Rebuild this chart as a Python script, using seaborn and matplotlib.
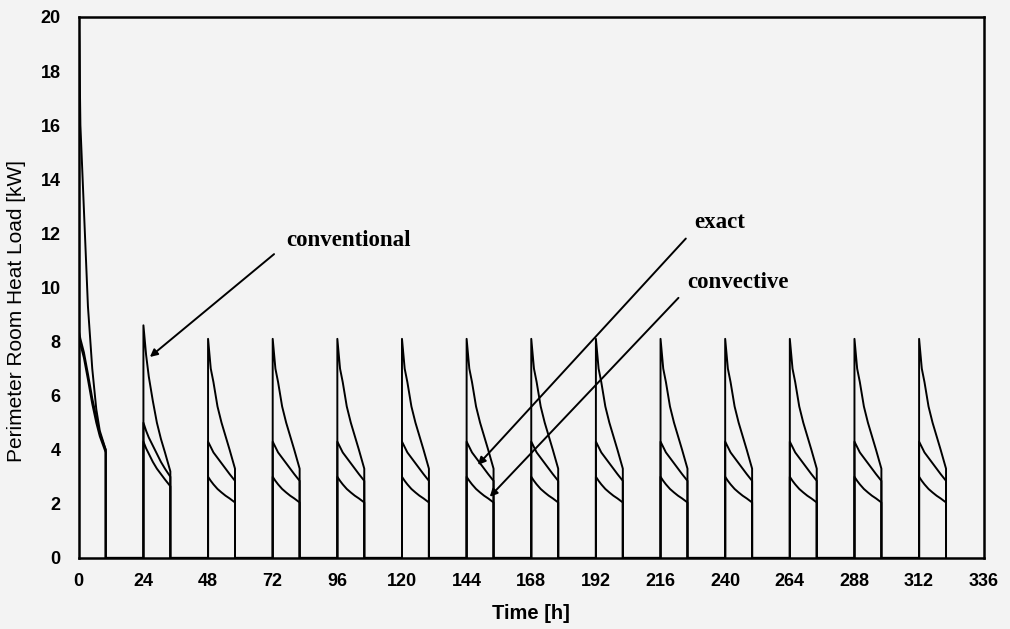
import pandas as pd
import matplotlib.pyplot as plt
import seaborn as sns

# Start hour of each daily heating period
day_starts = [0, 24, 48, 72, 96, 120, 144, 168, 192, 216, 240, 264, 288, 312]

# First day (start-up), hours into the period
day0_hours = [0, 0.2, 0.6, 1.9, 3.4, 5, 6.5, 7.8, 10]
conventional_day0 = [20, 19, 16, 12.9, 9.3, 7.0, 5.5, 4.7, 4.0]
exact_day0 = [8.4, 8.3, 8.1, 7.6, 6.8, 5.9, 5.2, 4.6, 4.0]
convective_day0 = [8.2, 8.1, 7.9, 7.4, 6.6, 5.7, 5.0, 4.5, 3.9]

# Second day
day_hours = [0, 1, 2, 3.5, 5, 6.5, 8, 10]
conventional_day1 = [8.6, 7.5, 6.7, 5.8, 5.0, 4.4, 3.9, 3.2]
exact_day1 = [5.0, 4.7, 4.45, 4.15, 3.85, 3.55, 3.3, 3.0]
convective_day1 = [4.3, 4.05, 3.85, 3.55, 3.3, 3.1, 2.9, 2.65]

# Following days look the same
conventional_day = [8.1, 7.0, 6.5, 5.6, 5.0, 4.5, 4.0, 3.3]
exact_day = [4.3, 4.1, 3.9, 3.7, 3.5, 3.3, 3.1, 2.85]
convective_day = [3.0, 2.85, 2.72, 2.55, 2.42, 2.3, 2.2, 2.05]

series = {
    'conventional': (conventional_day0, conventional_day1, conventional_day),
    'exact': (exact_day0, exact_day1, exact_day),
    'convective': (convective_day0, convective_day1, convective_day),
}

rows = []
for name, (first, second, typical) in series.items():
    for i, start in enumerate(day_starts):
        if i == 0:
            hours, vals = day0_hours, first
        elif i == 1:
            hours, vals = day_hours, second
        else:
            hours, vals = day_hours, typical
        rows.append((name, start, 0.0))
        for h, v in zip(hours, vals):
            rows.append((name, start + h, v))
        rows.append((name, start + hours[-1], 0.0))
df = pd.DataFrame(rows, columns=['series', 'time', 'load'])

sns.set_style('white')
plt.rcParams['font.family'] = ['Liberation Sans', 'DejaVu Sans']
plt.rcParams['text.color'] = 'black'
plt.rcParams['axes.labelcolor'] = 'black'
plt.rcParams['xtick.color'] = 'black'
plt.rcParams['ytick.color'] = 'black'

bg = '#f3f3f3'
fig = plt.figure(figsize=(10.1, 6.29), dpi=100, facecolor=bg)
ax = fig.add_axes([0.078, 0.113, 0.896, 0.86], facecolor=bg)

sns.lineplot(data=df, x='time', y='load', hue='series', estimator=None, sort=False,
             palette=['black', 'black', 'black'], linewidth=1.4, legend=False, ax=ax)

ax.set_xlim(0, 336)
ax.set_ylim(0, 20)
ax.set_xticks(range(0, 337, 24))
ax.set_yticks(range(0, 21, 2))
ax.tick_params(length=0, labelsize=13)
ax.tick_params(axis='y', pad=13)
ax.tick_params(axis='x', pad=11)
for lab in ax.get_xticklabels() + ax.get_yticklabels():
    lab.set_fontweight('bold')
for s in ax.spines.values():
    s.set_color('black')
    s.set_linewidth(1.8)

ax.set_xlabel('Time [h]', fontsize=14.5, fontweight='bold', labelpad=10)
ax.set_ylabel('Perimeter Room Heat Load [kW]', fontsize=15)
ax.yaxis.set_label_coords(-0.058, 0.457)

serif = ['Liberation Serif', 'DejaVu Serif']
arrow = dict(arrowstyle='-|>', color='black', lw=1.4, mutation_scale=11)
ax.annotate('conventional', xy=(26.4, 7.43), xytext=(76.9, 11.75), fontsize=16.5,
            fontweight='bold', family=serif, va='center', ha='left',
            arrowprops=dict(arrow, shrinkA=8, shrinkB=0, relpos=(0, 0.3)))
ax.annotate('exact', xy=(148.2, 3.44), xytext=(228.7, 12.4), fontsize=16.5,
            fontweight='bold', family=serif, va='center', ha='left',
            arrowprops=dict(arrow, shrinkA=6, shrinkB=0, relpos=(0, 0.2)))
ax.annotate('convective', xy=(152.6, 2.26), xytext=(226, 10.2), fontsize=16.5,
            fontweight='bold', family=serif, va='center', ha='left',
            arrowprops=dict(arrow, shrinkA=6, shrinkB=0, relpos=(0, 0.2)))

plt.savefig('out.png', dpi=100, facecolor=bg)
